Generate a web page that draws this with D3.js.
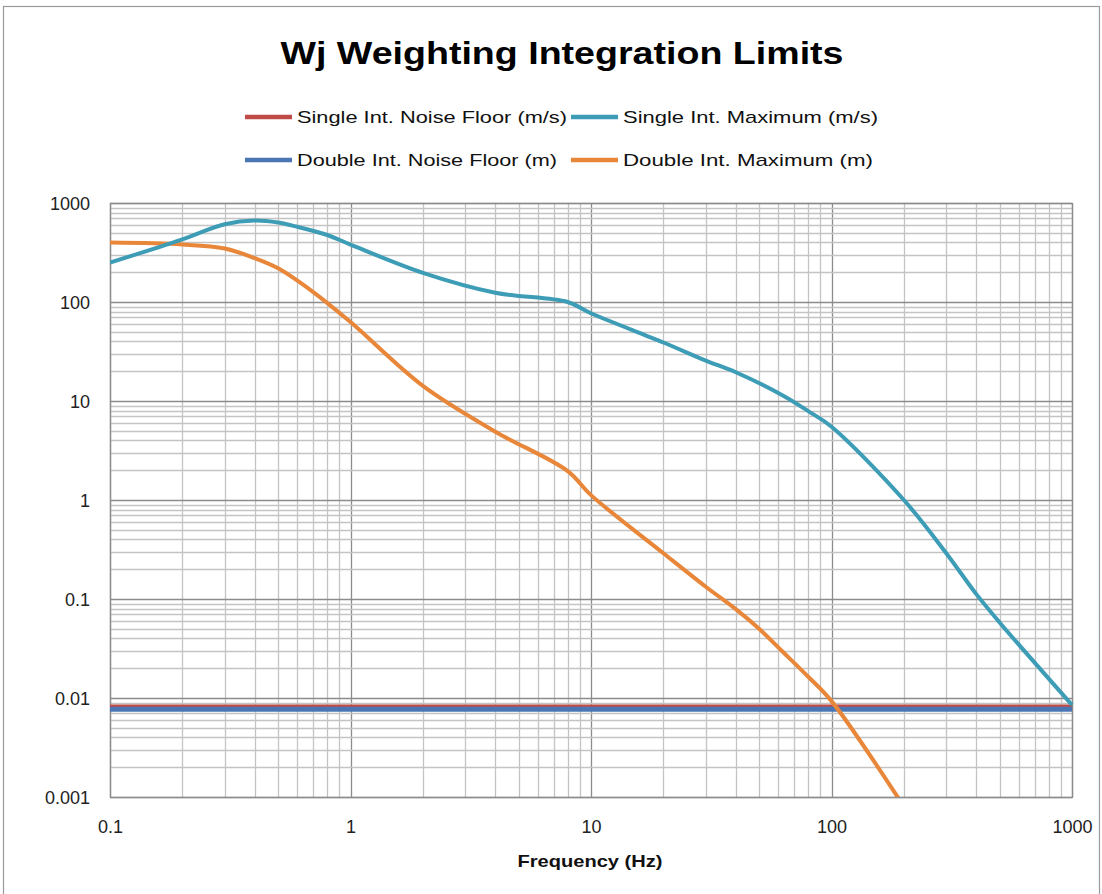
<!DOCTYPE html>
<html>
<head>
<meta charset="utf-8">
<script src="https://cdn.jsdelivr.net/npm/d3@7"></script>
<style>
  html, body { margin: 0; padding: 0; background: #fff; }
  svg { display: block; }
</style>
</head>
<body>
<div id="chart"></div>
<script>
// ---------- data ----------
const title = "Wj Weighting Integration Limits";
const xAxisTitle = "Frequency (Hz)";
const seriesNames = ["Single Int. Noise Floor (m/s)", "Single Int. Maximum (m/s)",
                     "Double Int. Noise Floor (m)", "Double Int. Maximum (m)"];
const xTickLabels = ["0.1", "1", "10", "100", "1000"];
const yTickLabels = ["0.001", "0.01", "0.1", "1", "10", "100", "1000"];

const noiseFreq = [0.1, 1000];
const singleNoise = [0.0083, 0.0083];
const doubleNoise = [0.0077, 0.0077];

const singleMaxFreq = [0.1, 0.2, 0.3, 0.4, 0.5, 0.6, 0.8, 1, 2, 4, 8, 10,
                       20, 30, 40, 63, 80, 100, 200, 300, 400, 500, 1000];
const singleMax = [250, 430, 610, 665, 635, 575, 475, 380, 197, 124, 100, 77,
                   39, 25.6, 19.5, 11.3, 7.9, 5.5, 1.0, 0.29, 0.112, 0.058, 0.0085];

const doubleMaxFreq = [0.1, 0.2, 0.3, 0.4, 0.5, 0.7, 1, 2, 4, 8, 10,
                       20, 30, 40, 50, 63, 80, 100, 200];
const doubleMax = [398, 381, 347, 277, 219, 126, 62.7, 14.2, 4.9, 1.96, 1.12,
                   0.29, 0.133, 0.079, 0.05, 0.029, 0.0164, 0.0093, 0.0008];

const colors = ["#BE4B48", "#3E9DB6", "#4A77B4", "#E8873A"];

// ---------- layout ----------
const W = 1102, H = 894;
const plot = { left: 110, right: 1072, top: 203, bottom: 797 };

const svg = d3.select("#chart").append("svg")
  .attr("width", W).attr("height", H);

svg.append("rect").attr("x", 0).attr("y", 0).attr("width", W).attr("height", H).attr("fill", "#fff");
// outer chart border
svg.append("rect").attr("x", 3.5).attr("y", 6.5).attr("width", 1096).attr("height", 920)
  .attr("fill", "none").attr("stroke", "#9a9a9a").attr("stroke-width", 1.2);

const x = d3.scaleLog().domain([0.1, 1000]).range([plot.left, plot.right]);
const y = d3.scaleLog().domain([0.001, 1000]).range([plot.bottom, plot.top]);

const isDecade = v => Math.abs(Math.log10(v) - Math.round(Math.log10(v))) < 1e-9;

// gridlines
const gx = svg.append("g");
const xt = x.ticks();
const yt = y.ticks();
gx.selectAll("line.v").data(xt).join("line")
  .attr("x1", d => Math.round(x(d)) + 0.5).attr("x2", d => Math.round(x(d)) + 0.5)
  .attr("y1", plot.top).attr("y2", plot.bottom)
  .attr("stroke", d => isDecade(d) ? "#8c8c8c" : "#c4c4c4").attr("stroke-width", 1.3);
gx.selectAll("line.h").data(yt).join("line")
  .attr("y1", d => Math.round(y(d)) + 0.5).attr("y2", d => Math.round(y(d)) + 0.5)
  .attr("x1", plot.left).attr("x2", plot.right)
  .attr("stroke", d => isDecade(d) ? "#8c8c8c" : "#c4c4c4").attr("stroke-width", 1.3);
// plot border
svg.append("rect").attr("x", plot.left + 0.5).attr("y", plot.top + 0.5)
  .attr("width", plot.right - plot.left).attr("height", plot.bottom - plot.top)
  .attr("fill", "none").attr("stroke", "#8c8c8c").attr("stroke-width", 1.3);

// axes (tick labels via d3 axes)
const xAxis = d3.axisBottom(x).tickValues(xTickLabels.map(Number))
  .tickFormat((d, i) => xTickLabels[i]).tickSize(0).tickPadding(0);
const gxa = svg.append("g").attr("transform", `translate(0,${plot.bottom + 24})`).call(xAxis);
gxa.select(".domain").remove();
gxa.selectAll("text").attr("font-family", "'Liberation Sans', Arial, sans-serif")
  .attr("font-size", 18).attr("fill", "#222").attr("dy", "0.35em").attr("y", 6);

const yAxis = d3.axisLeft(y).tickValues(yTickLabels.map(Number))
  .tickFormat((d, i) => yTickLabels[i]).tickSize(0).tickPadding(0);
const gya = svg.append("g").attr("transform", `translate(${plot.left - 20},0)`).call(yAxis);
gya.select(".domain").remove();
gya.selectAll("text").attr("font-family", "'Liberation Sans', Arial, sans-serif")
  .attr("font-size", 18).attr("fill", "#222").attr("dy", "0.35em");

// clip
svg.append("clipPath").attr("id", "clip").append("rect")
  .attr("x", plot.left).attr("y", plot.top - 2)
  .attr("width", plot.right - plot.left + 2).attr("height", plot.bottom - plot.top + 2);

const line = d3.line().x(d => x(d[0])).y(d => y(d[1])).curve(d3.curveCatmullRom.alpha(0.5));
const lines = svg.append("g").attr("clip-path", "url(#clip)");

const series = [
  { f: noiseFreq, v: singleNoise, c: colors[0], w: 3 },
  { f: noiseFreq, v: doubleNoise, c: colors[2], w: 5 },
  { f: doubleMaxFreq, v: doubleMax, c: colors[3], w: 4 },
  { f: singleMaxFreq, v: singleMax, c: colors[1], w: 4 }
];
series.forEach(s => {
  lines.append("path").datum(s.f.map((f, i) => [f, s.v[i]]))
    .attr("d", line).attr("fill", "none").attr("stroke", s.c)
    .attr("stroke-width", s.w).attr("stroke-linejoin", "round");
});

// title
svg.append("text").attr("x", 562).attr("y", 64).attr("text-anchor", "middle")
  .attr("font-family", "'Liberation Sans', Arial, sans-serif").attr("font-weight", "bold")
  .attr("font-size", 31).attr("fill", "#000")
  .attr("textLength", 563).attr("lengthAdjust", "spacingAndGlyphs")
  .text(title);

// legend
const legendItems = [
  { name: seriesNames[0], c: colors[0], x: 245, y: 117, tw: 270 },
  { name: seriesNames[1], c: colors[1], x: 571, y: 117, tw: 255 },
  { name: seriesNames[2], c: colors[2], x: 245, y: 160, tw: 260 },
  { name: seriesNames[3], c: colors[3], x: 571, y: 160, tw: 250 }
];
const lg = svg.append("g");
legendItems.forEach(it => {
  lg.append("line").attr("x1", it.x).attr("x2", it.x + 47).attr("y1", it.y).attr("y2", it.y)
    .attr("stroke", it.c).attr("stroke-width", 4.5);
  lg.append("text").attr("x", it.x + 52).attr("y", it.y).attr("dy", "0.35em")
    .attr("font-family", "'Liberation Sans', Arial, sans-serif").attr("font-size", 17)
    .attr("fill", "#111")
    .attr("textLength", it.tw).attr("lengthAdjust", "spacingAndGlyphs")
    .text(it.name);
});

// x axis title
svg.append("text").attr("x", 590).attr("y", 861).attr("dy", "0.35em").attr("text-anchor", "middle")
  .attr("font-family", "'Liberation Sans', Arial, sans-serif").attr("font-weight", "bold")
  .attr("font-size", 17).attr("fill", "#111")
  .attr("textLength", 145).attr("lengthAdjust", "spacingAndGlyphs")
  .text(xAxisTitle);
</script>
</body>
</html>
